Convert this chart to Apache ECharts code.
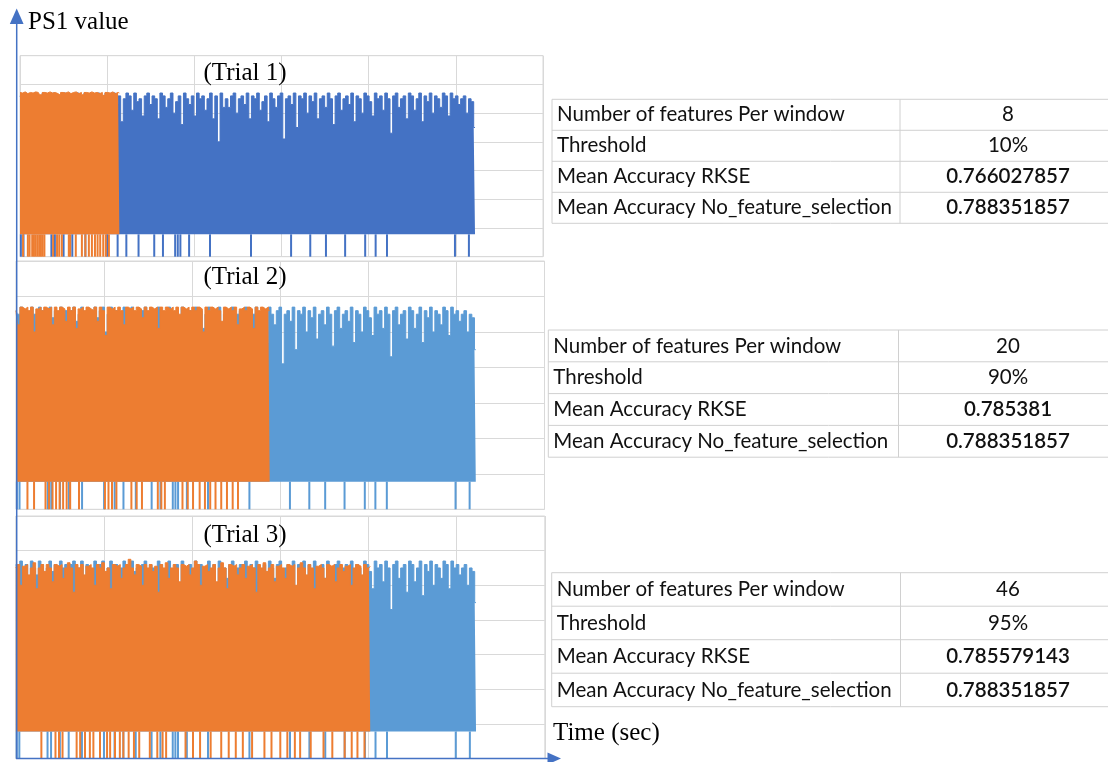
<!DOCTYPE html>
<html>
<head>
<meta charset="utf-8">
<script src="https://cdn.jsdelivr.net/npm/echarts@6/dist/echarts.min.js"></script>
<style>
  html, body { margin: 0; padding: 0; background: #fff; }
  #chart { width: 1108px; height: 762px; }
</style>
</head>
<body>
<div id="chart"></div>
<script>
// ---- data ---------------------------------------------------------------
// Upper envelope of the PS1 signal, one value every STEP seconds.
const STEP = 3;
// Lower edge of the dense band; drop-outs fall from here to 0.
const BAND_FLOOR = 7.8;

// Full signal (all features) - the same recording underlies all three trials.
const FULL_TOPS = [
  56,55,57,54,56,50,57,55,53,57,56,49,55,57,54,56,51,57,55,56,48,56,57,53,55,
  57,52,56,55,49,57,54,56,57,50,55,57,53,56,47,55,57,56,51,57,54,55,49,56,57,
  53,56,55,48,57,56,52,55,57,50,54,56,46,57,55,53,56,49,57,55,56,51,55,57,48,
  56,40,57,52,55,52,56,57,50,55,56,53,57,48,56,55,57,51,54,56,47,57,55,52,56,
  57,41,55,56,53,57,45,56,55,57,50,56,54,57,48,55,56,52,57,55,46,56,57,51,55,
  56,53,57,47,56,55,50,57,56,54,49,57,55,56,51,57,55,43,56,57,52,55,56,48,57,
  56,51,55,57,47,56,54,57,50,56,55,52,57,56,49,57,55,56,53,55,56,50,55,54,45
];
const FULL_DROPS = [1, 4, 36, 40, 50, 60, 75, 100, 112, 122, 136, 154, 164, 178, 181, 184, 194,
  218, 265, 311, 333, 351, 373, 396, 408, 421, 499, 515];

// Selected-feature signal of each trial.
const TRIAL1_TOPS = [
  57.2,57,57.4,56.8,57.2,57,57.4,57.2,56.4,57.2,57,57.4,57,57.2,56.8,56.2,57.2,57,57.4,56.8,
  57.2,57.4,56.8,57.2,56.4,57.2,57,57.4,57,57.2,56.8,57.2,56.2,57.2,57,57.4,56.8,57.2,57
];
const TRIAL1_DROPS = [3.5, 9, 11, 14, 16, 18, 20, 22, 24, 26, 28, 38, 42.5, 45, 48, 56, 57.5, 64,
  71, 75, 79, 82.5, 86, 89, 92, 95.5, 98.5, 102];

const TRIAL2_TOPS = [
  56,52,57,56.5,57,56,57,50,56.5,57,56,57,56.5,57,52,57,56,57,56.5,53,57,56,57,51,56.5,
  57,56,57,56.5,56,57,53,57,56,49,57,56.5,57,56,57,56,52,57,56.5,57,56,57,56.5,54,57,
  56,57,56.5,57,51,57,56,57,56.5,57,56,57,55,57,56.5,57,56,57,56,57,56.5,50,57,56,57,
  56.5,57,56,53,57,56.5,57,56,57,52,56.5,57,56,57,56.5,51,57,56,57,56.5,57,56
];
const TRIAL2_DROPS = [13, 20.5, 33.5, 37.5, 41.5, 45.5, 49.5, 53.5, 57.5, 61.5, 71.5, 101, 105, 109,
  114, 131, 137, 143, 161, 165, 169, 189, 195, 201, 208.5, 214.5, 220.5, 226.5, 233, 239.5, 246, 252];

const TRIAL3_TOPS = [
  55,56,50,55.5,56,53,55,56.5,49,55,56,54,56,55,51,56,55.5,56,52,55,56.5,55,48,56,55,
  56,53,55.5,56,55,50,56,55,56.5,54,55,49,56,55.5,56,52,55,56,57.5,55,53,56,55.5,50,56,
  55,56,54,55.5,48,56,55,56.5,52,55,56,55,51,56,55.5,56,53,55,57,56,50,55.5,56,54,55,
  56,51,55,56.5,55,49,56,55.5,56,53,55,56,52,55.5,56,55,48,56,55,56.5,54,55,56,51,55.5,
  56,55,52,56,55.5,56,50,55,56.5,55,53,56,55,49,55.5,56,55,52,56,55.5,56,51,55,56,54,
  55.5,56,50,55,56,55.5,53,56,55,55.5
];
const TRIAL3_DROPS = [29, 45, 49, 53, 69, 73, 78.5, 84, 88, 95.5, 103.5, 107, 112.5, 118, 122, 128,
  134, 140, 152, 160.5, 166.5, 170.5, 192.5, 201, 209, 221, 233, 241.5, 249.5, 257.5, 268, 282, 290,
  300, 308, 316.5, 322.5, 334.5, 349, 359, 373, 381, 387.5, 395.5];

const TRIAL_TITLES = ['(Trial 1)', '(Trial 2)', '(Trial 3)'];
const Y_TITLE = 'PS1 value';
const X_TITLE = 'Time (sec)';

// Summary tables
const ROW_LABELS = ['Number of features Per window', 'Threshold', 'Mean Accuracy RKSE',
  'Mean Accuracy No_feature_selection'];
const FEATURES_PER_WINDOW = ['8', '20', '46'];
const THRESHOLDS = ['10%', '90%', '95%'];
const ACC_RKSE = ['0.766027857', '0.785381', '0.785579143'];
const ACC_NO_FS = ['0.788351857', '0.788351857', '0.788351857'];

// ---- layout / style -----------------------------------------------------
const ORANGE = '#ED7D31';
const GRID_GRAY = '#d9d9d9';
const AXIS_BLUE = '#4472C4';
const SERIF = '"Liberation Serif", "Times New Roman", serif';
const SANS = 'Lato, "Noto Sans", sans-serif';
const TABLE_FONT_SIZE = 20.5;

const panels = [
  { left: 20,   top: 55.7, width: 523,   height: 201,   blue: '#4472C4', titleY: 73.3,  tops: TRIAL1_TOPS, drops: TRIAL1_DROPS },
  { left: 16,   top: 261,  width: 528.5, height: 248.3, blue: '#5B9BD5', titleY: 277.3, tops: TRIAL2_TOPS, drops: TRIAL2_DROPS },
  { left: 15.8, top: 516,  width: 529,   height: 242.5, blue: '#5B9BD5', titleY: 535,   tops: TRIAL3_TOPS, drops: TRIAL3_DROPS }
];
const tables = [
  { x: 552,   y: 99.3,  rowH: 31,   split: 900 },
  { x: 548.3, y: 330,   rowH: 31.8, split: 898.5 },
  { x: 551.7, y: 572.7, rowH: 33.5, split: 900.5 }
];

// ---- build ---------------------------------------------------------------
const envelope = tops => tops.map((v, i) => [i * STEP, v]);
const dropData = xs => xs.map(x => [x, BAND_FLOOR]);

function dropRenderer(color) {
  return function (params, api) {
    const base = api.coord([api.value(0), 0]);
    const top = api.coord([api.value(0), api.value(1)]);
    return {
      type: 'rect',
      shape: { x: base[0] - 1, y: top[1], width: 2, height: base[1] - top[1] },
      style: { fill: color }
    };
  };
}

const grid = [], xAxis = [], yAxis = [], series = [], graphic = [];

panels.forEach((p, i) => {
  grid.push({ left: p.left, top: p.top, width: p.width, height: p.height,
    show: true, borderColor: GRID_GRAY, borderWidth: 1, containLabel: false });
  xAxis.push({ type: 'value', gridIndex: i, min: 0, max: 600, interval: 100,
    axisLine: { show: false }, axisTick: { show: false }, axisLabel: { show: false },
    splitLine: { show: true, lineStyle: { color: GRID_GRAY, width: 1 } } });
  yAxis.push({ type: 'value', gridIndex: i, min: 0, max: 70, interval: 10,
    axisLine: { show: false }, axisTick: { show: false }, axisLabel: { show: false },
    splitLine: { show: true, lineStyle: { color: GRID_GRAY, width: 1 } } });

  const common = { xAxisIndex: i, yAxisIndex: i, silent: true, animation: false };
  series.push(Object.assign({
    type: 'line', name: 'all features', data: envelope(FULL_TOPS), z: 2,
    showSymbol: false, symbol: 'none', sampling: null, step: 'middle',
    lineStyle: { color: p.blue, width: 1 },
    areaStyle: { color: p.blue, opacity: 1, origin: BAND_FLOOR }
  }, common));
  series.push(Object.assign({
    type: 'custom', name: 'all features drop-outs', data: dropData(FULL_DROPS), z: 3,
    renderItem: dropRenderer(p.blue)
  }, common));
  series.push(Object.assign({
    type: 'line', name: 'selected features', data: envelope(p.tops), z: 4,
    showSymbol: false, symbol: 'none', sampling: null, step: 'middle',
    lineStyle: { color: ORANGE, width: 1 },
    areaStyle: { color: ORANGE, opacity: 1, origin: BAND_FLOOR }
  }, common));
  series.push(Object.assign({
    type: 'custom', name: 'selected features drop-outs', data: dropData(p.drops), z: 5,
    renderItem: dropRenderer(ORANGE)
  }, common));

  graphic.push({ type: 'text', z: 10, style: {
    text: TRIAL_TITLES[i], x: 245, y: p.titleY, font: '25px ' + SERIF, fill: '#000',
    textAlign: 'center', textVerticalAlign: 'middle', verticalAlign: 'middle' } });
});

// summary tables
tables.forEach((t, k) => {
  const right = 1120;
  for (let r = 0; r <= ROW_LABELS.length; r++) {
    const y = t.y + r * t.rowH;
    graphic.push({ type: 'line', z: 10, shape: { x1: t.x, y1: y, x2: right, y2: y },
      style: { stroke: '#d0d0d0', lineWidth: 1 } });
  }
  const bottom = t.y + ROW_LABELS.length * t.rowH;
  [t.x, t.split].forEach(x => graphic.push({ type: 'line', z: 10,
    shape: { x1: x, y1: t.y, x2: x, y2: bottom }, style: { stroke: '#d0d0d0', lineWidth: 1 } }));
  const values = [FEATURES_PER_WINDOW[k], THRESHOLDS[k], ACC_RKSE[k], ACC_NO_FS[k]];
  ROW_LABELS.forEach((label, r) => {
    const cy = t.y + (r + 0.5) * t.rowH;
    graphic.push({ type: 'text', z: 11, style: {
      text: label, x: t.x + 5, y: cy, font: TABLE_FONT_SIZE + 'px ' + SANS, fill: '#111',
      textAlign: 'left', textVerticalAlign: 'middle', verticalAlign: 'middle' } });
    graphic.push({ type: 'text', z: 11, style: {
      text: values[r], x: 1008, y: cy,
      font: (r >= 2 ? '600 ' : '') + TABLE_FONT_SIZE + 'px ' + SANS, fill: '#111',
      textAlign: 'center', textVerticalAlign: 'middle', verticalAlign: 'middle' } });
  });
});

// outer axes with arrow heads
graphic.push(
  { type: 'line', z: 20, shape: { x1: 16.7, y1: 759, x2: 16.7, y2: 20 },
    style: { stroke: AXIS_BLUE, lineWidth: 1.5 } },
  { type: 'polygon', z: 20, shape: { points: [[16.7, 8.5], [9.8, 24], [23.6, 24]] },
    style: { fill: AXIS_BLUE } },
  { type: 'line', z: 20, shape: { x1: 16, y1: 758.5, x2: 550, y2: 758.5 },
    style: { stroke: AXIS_BLUE, lineWidth: 1.5 } },
  { type: 'polygon', z: 20, shape: { points: [[561, 758.5], [547.5, 752.5], [547.5, 764.5]] },
    style: { fill: AXIS_BLUE } },
  { type: 'text', z: 20, style: { text: Y_TITLE, x: 28, y: 22.6, font: '25px ' + SERIF,
    fill: '#000', textAlign: 'left', textVerticalAlign: 'middle', verticalAlign: 'middle' } },
  { type: 'text', z: 20, style: { text: X_TITLE, x: 553, y: 733.3, font: '25px ' + SERIF,
    fill: '#000', textAlign: 'left', textVerticalAlign: 'middle', verticalAlign: 'middle' } }
);

const chart = echarts.init(document.getElementById('chart'), null, { renderer: 'canvas' });
chart.setOption({
  backgroundColor: '#ffffff',
  animation: false,
  grid, xAxis, yAxis, series, graphic
});
</script>
</body>
</html>
